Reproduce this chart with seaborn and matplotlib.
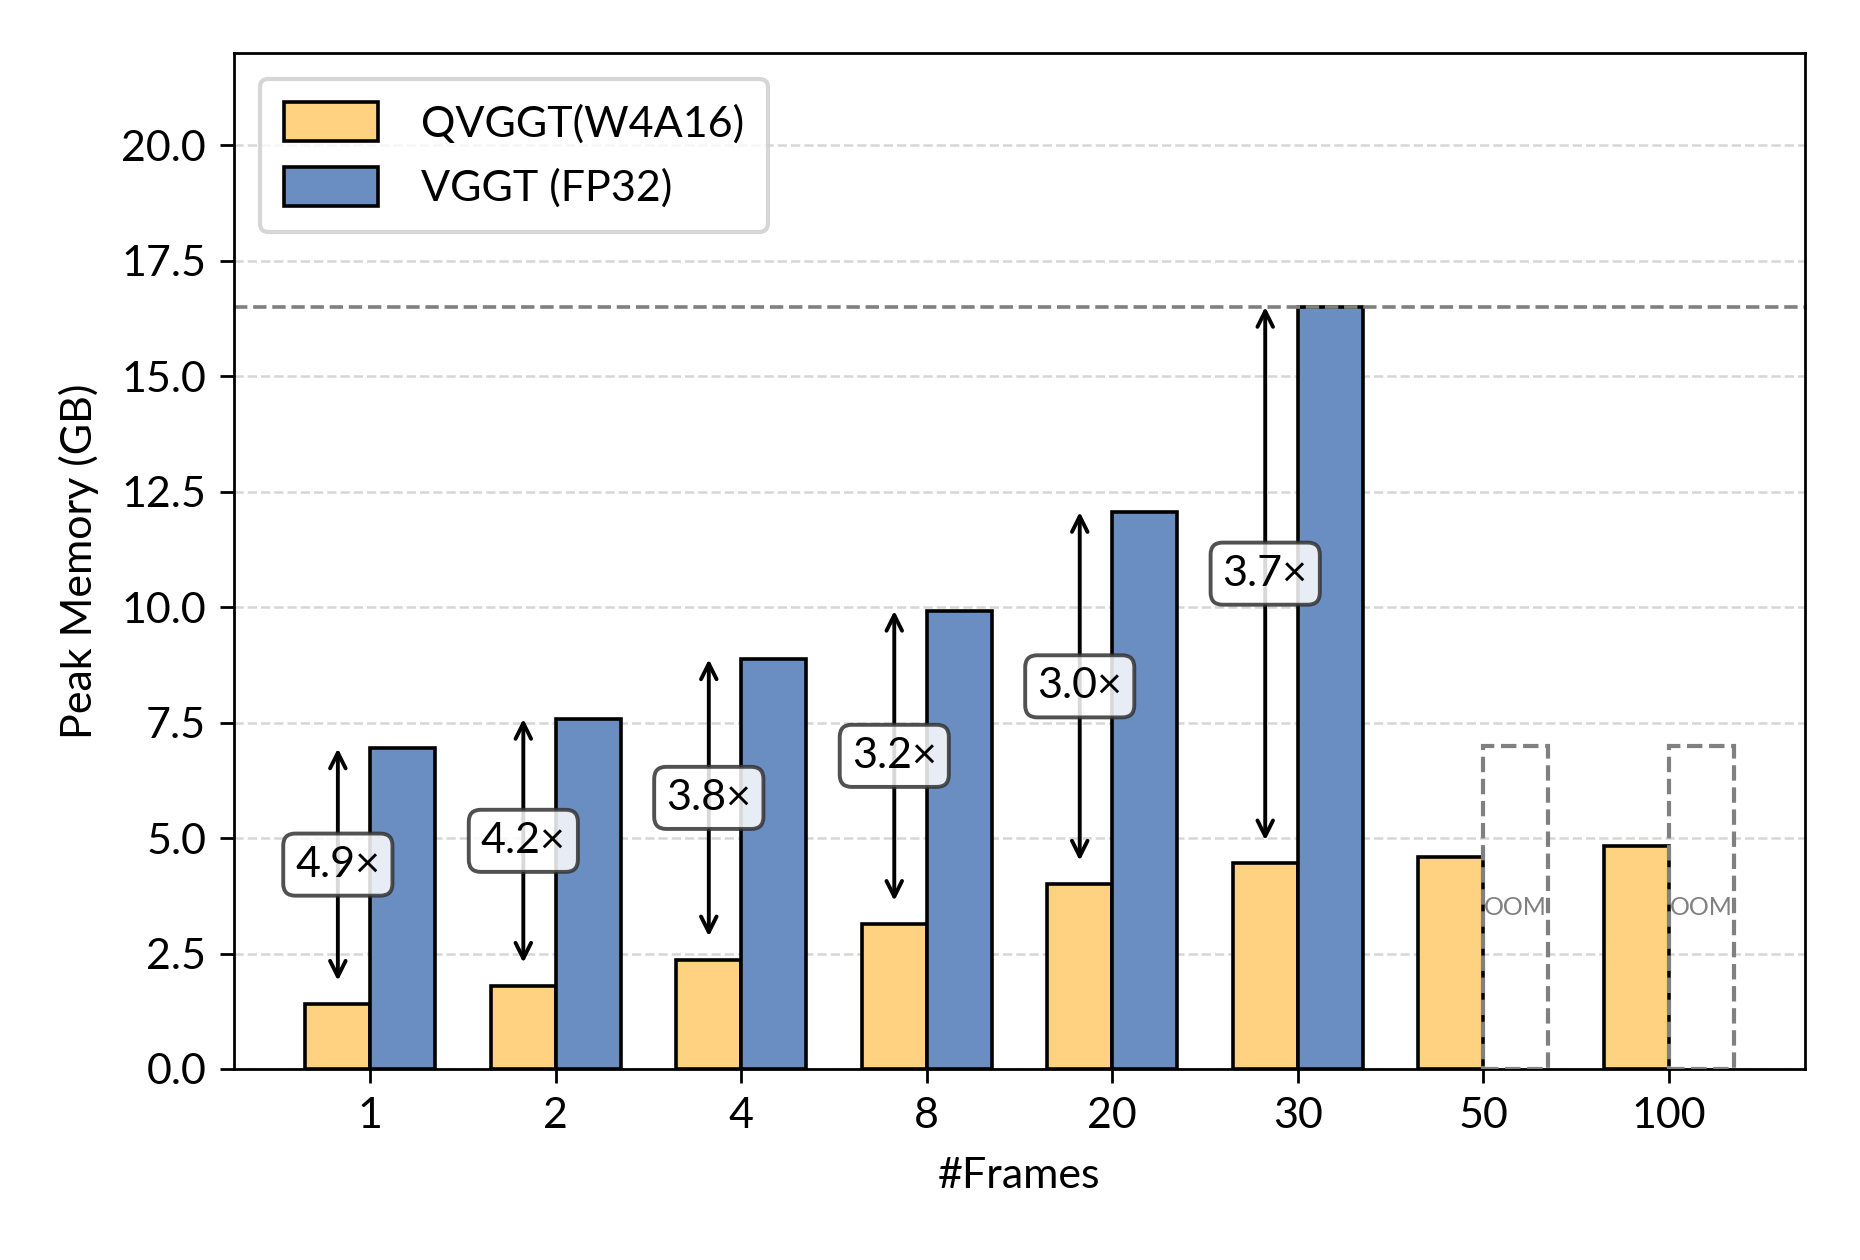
import numpy as np
import pandas as pd
import matplotlib
matplotlib.use("Agg")
import matplotlib.pyplot as plt
import seaborn as sns
from matplotlib.patches import Rectangle

frames = ["1", "2", "4", "8", "20", "30", "50", "100"]
qvggt = [1.41, 1.80, 2.37, 3.14, 4.01, 4.45, 4.58, 4.83]
vggt = [6.94, 7.58, 8.87, 9.92, 12.06, 16.5, np.nan, np.nan]
ratio_labels = ["4.9×", "4.2×", "3.8×", "3.2×", "3.0×", "3.7×"]
oom_height = 7.0
series_names = ["QVGGT(W4A16)", "VGGT (FP32)"]
colors = ["#FED281", "#6A8EC2"]

sns.set_theme(style="white")
plt.rcParams["font.family"] = ["Lato", "DejaVu Sans"]
plt.rcParams["text.color"] = "black"
plt.rcParams["axes.labelcolor"] = "black"
plt.rcParams["xtick.color"] = "black"
plt.rcParams["ytick.color"] = "black"

df = pd.DataFrame({
    "Frames": frames * 2,
    "Memory": qvggt + vggt,
    "Model": [series_names[0]] * len(frames) + [series_names[1]] * len(frames),
})

fig = plt.figure(figsize=(9.3, 6.3), dpi=200)
ax = fig.add_axes([0.1258, 0.1516, 0.8446, 0.8064])

sns.barplot(data=df, x="Frames", y="Memory", hue="Model", order=frames,
            hue_order=series_names, palette=colors, width=0.7, gap=0,
            edgecolor="black", linewidth=1.3, saturation=1, ax=ax, legend=True)

bw = 0.35
ax.set_ylim(0, 22)
ax.set_xlim(-0.735, len(frames) - 1 + 0.735)
ax.set_yticks(np.arange(0, 20.1, 2.5))
ax.set_yticklabels([f"{v:.1f}" for v in np.arange(0, 20.1, 2.5)])
ax.grid(axis="y", linestyle="--", color="#cccccc", linewidth=0.9, alpha=0.8)
ax.set_axisbelow(True)
for s in ax.spines.values():
    s.set_color("black")
    s.set_linewidth(1.0)
ax.tick_params(axis="both", which="both", direction="out", length=5, width=1,
               labelsize=15.5, left=True, bottom=True, color="black",
               labelcolor="black", pad=5)
ax.set_xlabel("#Frames", fontsize=15.5, labelpad=8, color="black")
ax.set_ylabel("Peak Memory (GB)", fontsize=15.5, labelpad=8, color="black")

vmax = np.nanmax(vggt)
ax.axhline(vmax, color="#808080", linestyle="--", linewidth=1.3, zorder=1)

for i, lab in enumerate(ratio_labels):
    x = i - bw / 2
    lo = qvggt[i] + 0.5
    hi = vggt[i]
    ax.annotate("", xy=(x, hi), xytext=(x, lo),
                arrowprops=dict(arrowstyle="<->", lw=1.4, color="black",
                                shrinkA=0, shrinkB=0, mutation_scale=14),
                zorder=4)
    ax.text(x, (lo + hi) / 2, lab, ha="center", va="center", fontsize=15.5,
            zorder=5, color="black",
            bbox=dict(boxstyle="round,pad=0.28", facecolor="white", alpha=0.85,
                      edgecolor="#333333", linewidth=1.4))

for i, v in enumerate(vggt):
    if np.isnan(v):
        ax.add_patch(Rectangle((i, 0), bw, oom_height, fill=False,
                               edgecolor="#808080", linestyle="--",
                               linewidth=1.5, zorder=3))
        ax.text(i + bw / 2, oom_height / 2, "OOM", ha="center", va="center",
                fontsize=9, color="#808080", zorder=4)

leg = ax.legend(loc="upper left", fontsize=15.5, frameon=True, fancybox=True,
                edgecolor="#cccccc", handlelength=2.2, handleheight=1.0,
                borderpad=0.55, labelspacing=0.55, handletextpad=1.0,
                borderaxespad=0.6)
leg.get_frame().set_linewidth(1.5)
for t in leg.get_texts():
    t.set_color("black")
for h in leg.legend_handles:
    h.set_edgecolor("black")
    h.set_linewidth(1.3)

fig.savefig("out.png", dpi=200)
